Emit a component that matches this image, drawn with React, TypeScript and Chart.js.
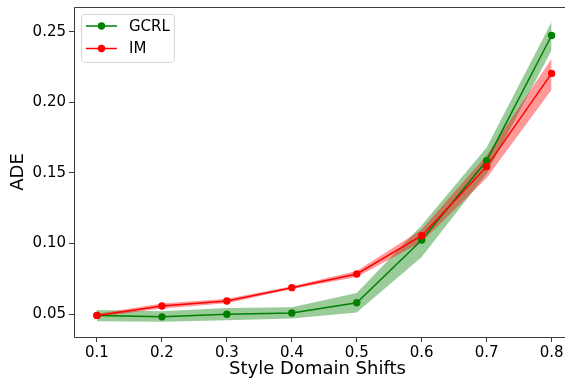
import React, { useEffect, useRef } from "react";
import { Chart, registerables } from "chart.js";

Chart.register(...registerables);

const shifts = [0.1, 0.2, 0.3, 0.4, 0.5, 0.6, 0.7, 0.8];
const gcrlMean = [0.049, 0.048, 0.0498, 0.0507, 0.058, 0.1025, 0.1587, 0.2475];
const gcrlUpper = [0.0528, 0.052, 0.0542, 0.0548, 0.0649, 0.113, 0.168, 0.257];
const gcrlLower = [0.0448, 0.0445, 0.0455, 0.0468, 0.051, 0.0905, 0.1495, 0.237];
const imMean = [0.049, 0.0557, 0.0592, 0.0687, 0.0784, 0.1055, 0.1545, 0.2206];
const imUpper = [0.0502, 0.0575, 0.0608, 0.0697, 0.0805, 0.11, 0.1625, 0.231];
const imLower = [0.0478, 0.0539, 0.0576, 0.0677, 0.0763, 0.101, 0.1465, 0.209];
const xTicks = [0.1, 0.2, 0.3, 0.4, 0.5, 0.6, 0.7, 0.8];
const yTicks = [0.05, 0.1, 0.15, 0.2, 0.25];

const GREEN = "#008000";
const RED = "#ff0000";
const FONT = "'DejaVu Sans', sans-serif";

const pts = (ys: number[]) => shifts.map((x, i) => ({ x, y: ys[i] }));

export default function App() {
  const ref = useRef<HTMLCanvasElement>(null);
  useEffect(() => {
    document.body.style.margin = "0";
    const legendPlugin = {
      id: "mplLegend",
      afterDraw(chart: any) {
        const ctx = chart.ctx as CanvasRenderingContext2D;
        const a = chart.chartArea;
        ctx.save();
        ctx.strokeStyle = "#3a3a3a";
        ctx.lineWidth = 1;
        ctx.beginPath();
        ctx.moveTo(chart.width, a.top + 0.5);
        ctx.lineTo(a.left + 0.5, a.top + 0.5);
        ctx.lineTo(a.left + 0.5, a.bottom + 0.5);
        ctx.lineTo(chart.width, a.bottom + 0.5);
        ctx.stroke();
        const bx = 81.5, by = 14.5, bw = 93, bh = 48, r = 3;
        ctx.beginPath();
        ctx.moveTo(bx + r, by);
        ctx.lineTo(bx + bw - r, by);
        ctx.arcTo(bx + bw, by, bx + bw, by + r, r);
        ctx.lineTo(bx + bw, by + bh - r);
        ctx.arcTo(bx + bw, by + bh, bx + bw - r, by + bh, r);
        ctx.lineTo(bx + r, by + bh);
        ctx.arcTo(bx, by + bh, bx, by + bh - r, r);
        ctx.lineTo(bx, by + r);
        ctx.arcTo(bx, by, bx + r, by, r);
        ctx.closePath();
        ctx.fillStyle = "rgba(255,255,255,0.8)";
        ctx.fill();
        ctx.strokeStyle = "#d6d6d6";
        ctx.stroke();
        const items = [
          { label: "GCRL", color: GREEN, y: 26 },
          { label: "IM", color: RED, y: 48.5 },
        ];
        ctx.font = `15px ${FONT}`;
        ctx.textBaseline = "middle";
        ctx.textAlign = "left";
        for (const it of items) {
          ctx.strokeStyle = it.color;
          ctx.lineWidth = 1.5;
          ctx.beginPath();
          ctx.moveTo(86, it.y);
          ctx.lineTo(117, it.y);
          ctx.stroke();
          ctx.fillStyle = it.color;
          ctx.beginPath();
          ctx.arc(101.5, it.y, 3.7, 0, Math.PI * 2);
          ctx.fill();
          ctx.fillStyle = "#000";
          ctx.fillText(it.label, 129, it.y + 1);
        }
        ctx.restore();
      },
    };

    const band = (data: number[], color: string, fill: any, order: number) => ({
      data: pts(data),
      borderWidth: 0,
      borderColor: "transparent",
      backgroundColor: color,
      pointRadius: 0,
      fill,
      order,
      tension: 0,
    });
    const line = (data: number[], color: string, order: number) => ({
      data: pts(data),
      borderWidth: 1.5,
      borderColor: color,
      backgroundColor: color,
      pointBackgroundColor: color,
      pointBorderWidth: 0,
      pointRadius: 3.7,
      fill: false,
      order,
      tension: 0,
    });

    const chart = new Chart(ref.current!, {
      type: "line",
      data: {
        datasets: [
          band(gcrlUpper, "rgba(0,128,0,0.4)", 1, 6),
          band(gcrlLower, "rgba(0,128,0,0.4)", false, 5),
          band(imUpper, "rgba(255,0,0,0.4)", 3, 4),
          band(imLower, "rgba(255,0,0,0.4)", false, 3),
          line(gcrlMean, GREEN, 2),
          line(imMean, RED, 1),
        ] as any,
      },
      options: {
        animation: false,
        responsive: false,
        layout: { padding: { top: 7, right: 0, left: 0, bottom: 0 } },
        plugins: { legend: { display: false }, tooltip: { enabled: false } },
        scales: {
          x: {
            type: "linear",
            min: 0.0646,
            max: 0.8145,
            afterBuildTicks: (s: any) => {
              s.ticks = xTicks.map((v) => ({ value: v }));
            },
            afterFit: (s: any) => {
              s.height = 42;
              s.paddingLeft = 0;
              s.paddingRight = 0;
            },
            grid: { drawOnChartArea: false, drawTicks: true, tickLength: 5, color: "#3a3a3a" },
            border: { display: false },
            ticks: {
              autoSkip: false,
              maxRotation: 0,
              padding: 2,
              color: "#000",
              font: { family: FONT, size: 15 },
              callback: (v: any) => Number(v).toFixed(1),
            },
            title: {
              display: true,
              text: "Style Domain Shifts",
              color: "#000",
              font: { family: FONT, size: 18, lineHeight: 1 },
              padding: { top: 0, bottom: 1 },
            },
          },
          y: {
            type: "linear",
            min: 0.0337,
            max: 0.2677,
            afterBuildTicks: (s: any) => {
              s.ticks = yTicks.map((v) => ({ value: v }));
            },
            afterFit: (s: any) => {
              s.width = 74;
              s.paddingTop = 0;
              s.paddingBottom = 0;
            },
            grid: { drawOnChartArea: false, drawTicks: true, tickLength: 5, color: "#3a3a3a" },
            border: { display: false },
            ticks: {
              autoSkip: false,
              padding: 3,
              color: "#000",
              font: { family: FONT, size: 15 },
              callback: (v: any) => Number(v).toFixed(2),
            },
            title: {
              display: true,
              text: "ADE",
              color: "#000",
              font: { family: FONT, size: 18 },
              padding: { top: 8, bottom: 0 },
            },
          },
        },
      },
      plugins: [legendPlugin],
    });
    return () => chart.destroy();
  }, []);
  return (
    <div style={{ width: 565, height: 379 }}>
      <canvas ref={ref} width={565} height={379} />
    </div>
  );
}
